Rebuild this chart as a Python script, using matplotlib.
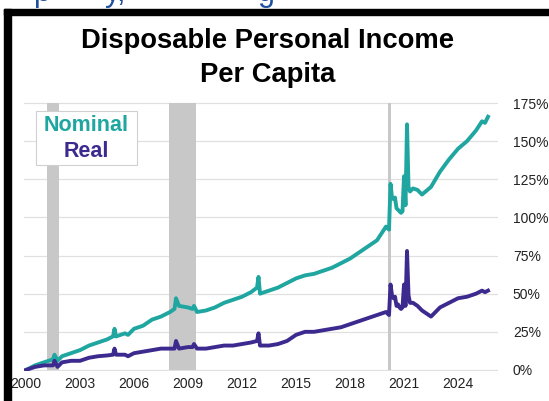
import matplotlib
matplotlib.use("Agg")
import matplotlib.pyplot as plt
from matplotlib.patches import Rectangle

plt.rcParams['font.family'] = ['Liberation Sans', 'DejaVu Sans']

# values: percent change since Jan 2000
nominal_dates = ['2000-01', '2000-07', '2001-01', '2001-07', '2001-08', '2001-10', '2002-01',
                 '2002-07', '2003-01', '2003-07', '2004-01', '2004-07', '2004-11', '2004-12',
                 '2005-01', '2005-07', '2005-09', '2006-01', '2006-07', '2007-01', '2007-07',
                 '2008-01', '2008-04', '2008-05', '2008-07', '2009-01', '2009-04', '2009-05',
                 '2009-07', '2010-01', '2010-07', '2011-01', '2011-07', '2012-01', '2012-07',
                 '2012-11', '2012-12', '2013-01', '2013-07', '2014-01', '2014-07', '2015-01',
                 '2015-07', '2016-01', '2016-07', '2017-01', '2017-07', '2018-01', '2018-07',
                 '2019-01', '2019-07', '2020-01', '2020-03', '2020-04', '2020-05', '2020-06',
                 '2020-07', '2020-08', '2020-09', '2020-10', '2020-11', '2020-12', '2021-01',
                 '2021-02', '2021-03', '2021-04', '2021-05', '2021-07', '2021-10', '2022-01',
                 '2022-07', '2023-01', '2023-07', '2024-01', '2024-07', '2025-01', '2025-05',
                 '2025-07', '2025-09']
nominal = [0, 3, 5, 7, 10, 6, 9,
           11, 13, 16, 18, 20, 22, 27,
           22, 24, 23, 27, 29, 33, 35,
           38, 40, 47, 42, 41, 40, 42,
           38, 39, 41, 44, 46, 48, 51,
           54, 61, 50, 52, 54, 57, 60,
           62, 63, 65, 67, 70, 73, 77,
           81, 85, 94, 92, 122, 113, 112,
           113, 106, 105, 104, 103, 104, 127,
           108, 161, 120, 117, 119, 118, 115,
           120, 130, 138, 145, 150, 157, 163,
           162, 166]

real_dates = nominal_dates
real = [0, 2, 3, 3, 6, 2, 5,
        6, 6, 8, 9, 9.5, 10, 14,
        10, 10, 9, 11, 12, 13, 14,
        14, 14, 19, 14, 15, 15, 17,
        14, 14, 15, 16, 16, 17, 18,
        19, 24, 16, 16, 17, 19, 23,
        25, 25, 26, 27, 28, 30, 32,
        34, 36, 38, 36, 56, 49, 47,
        48, 42, 43, 41, 40, 41, 56,
        42, 78, 49, 44, 44, 42, 39,
        35, 41, 44, 47, 48, 50, 52,
        51, 52]

recessions = [('2001-03', '2001-11'), ('2007-12', '2009-06'), ('2020-02', '2020-04')]

years = [2000, 2003, 2006, 2009, 2012, 2015, 2018, 2021, 2024]
pct_ticks = [0, 25, 50, 75, 100, 125, 150, 175]

teal = '#1fa6a0'
purple = '#3d2a8f'


def to_year(s):
    y, m = s.split('-')
    return int(y) + (int(m) - 1) / 12


fig = plt.figure(figsize=(5.49, 4.01), dpi=100)
ax = fig.add_axes([0.0441, 0.0736, 0.8623, 0.6733])

# shaded recessions
for start, end in recessions:
    ax.fill_between([to_year(start), to_year(end)], 0, 175, color='#c8c8c8', lw=0, zorder=1)

ax.plot([to_year(d) for d in nominal_dates], nominal, color=teal, lw=2.8, zorder=3,
        solid_joinstyle='round')
ax.plot([to_year(d) for d in real_dates], real, color=purple, lw=2.8, zorder=3,
        solid_joinstyle='round')

ax.set_xlim(1999.9, 2026.2)
ax.set_ylim(-1, 176)
ax.set_xticks(years)
ax.set_xticklabels([str(y) for y in years])
ax.set_yticks(pct_ticks)
ax.set_yticklabels([f'{p}%' for p in pct_ticks])
ax.yaxis.tick_right()
ax.tick_params(axis='y', length=0, pad=11, labelsize=10, labelcolor='#222222')
ax.tick_params(axis='x', length=0, pad=4, labelsize=10, labelcolor='#222222')
ax.grid(axis='y', color='#e0e0e0', lw=0.9, zorder=0)
ax.set_axisbelow(True)
for s in ax.spines.values():
    s.set_visible(False)

fig.text(0.487, 0.855, 'Disposable Personal Income\nPer Capita', ha='center', va='center',
         fontsize=19.7, fontweight='bold', linespacing=1.4)

# legend box
fig.add_artist(Rectangle((0.0656, 0.5885), 0.184, 0.1347, transform=fig.transFigure,
                         facecolor='white', edgecolor='#d0d0d0', lw=0.8, zorder=5))
fig.text(0.1576, 0.688, 'Nominal', ha='center', va='center', fontsize=15.5,
         fontweight='bold', color=teal, zorder=6)
fig.text(0.1576, 0.621, 'Real', ha='center', va='center', fontsize=15.5,
         fontweight='bold', color=purple, zorder=6)

# slide frame and the cut-off heading above it
fig.add_artist(Rectangle((4 / 549, 1 - 15 / 401), 545 / 549, 6 / 401,
                         transform=fig.transFigure, color='black', zorder=7))
fig.add_artist(Rectangle((4 / 549, 0), 7 / 549, 392 / 401,
                         transform=fig.transFigure, color='black', zorder=7))
for ch, px in [('p', 33), ('y,', 105), ('g', 258)]:
    fig.text(px / 549, 0.9975, ch, fontsize=22, color='#1f4f9c', va='baseline')

fig.savefig('out.png', dpi=100)
